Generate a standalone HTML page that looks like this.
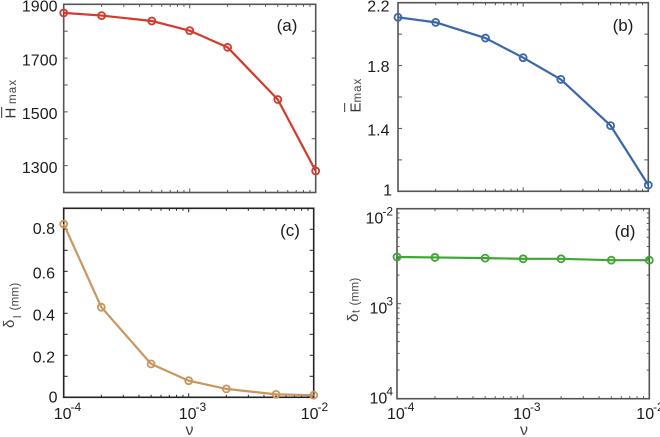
<!DOCTYPE html>
<html lang="en">
<head>
<meta charset="utf-8">
<title>Four-panel chart of maxima and thickness against viscosity</title>
<style>
html,body{margin:0;padding:0;background:#fff;width:660px;height:437px;overflow:hidden}
svg{display:block;filter:blur(.35px)}
text{font-family:"Liberation Sans",sans-serif;fill:#1c1c1c}
</style>
</head>
<body>
<svg id="chart" xmlns="http://www.w3.org/2000/svg" width="660" height="437" viewBox="0 0 660 437">
  <g fill="#555">
    <rect x="1" y="107" width="1.2" height="11" fill="#555"/>
    <text transform="translate(15.5 118.5) rotate(-90)" font-size="15" style="fill:#333">H</text>
    <text transform="translate(16 104) rotate(-90)" font-size="11.5" letter-spacing="1.2" style="fill:#444">max</text>
  </g>
  <g>
    <rect x="344" y="103" width="1.2" height="9" fill="#555"/>
    <text transform="translate(360.5 112.5) rotate(-90)" font-size="15" style="fill:#333">E</text>
    <text transform="translate(361 102.5) rotate(-90)" font-size="11.5" letter-spacing="1" style="fill:#444">max</text>
  </g>
  <g>
    <text transform="translate(14 328) rotate(-90)" font-size="15" style="fill:#444">δ</text>
    <text transform="translate(21 318) rotate(-90)" font-size="11" style="fill:#444">l</text>
    <text transform="translate(18.5 310.5) rotate(-90)" font-size="11.5" letter-spacing=".3" style="fill:#444">(mm)</text>
  </g>
  <g>
    <text transform="translate(358 322) rotate(-90)" font-size="15" style="fill:#444">δ</text>
    <text transform="translate(359.5 313) rotate(-90)" font-size="11" style="fill:#444">t</text>
    <text transform="translate(358.5 305.5) rotate(-90)" font-size="11.5" letter-spacing=".3" style="fill:#444">(mm)</text>
  </g>
  <text x="189.5" y="435" font-size="16" text-anchor="middle" style="fill:#444">ν</text>
  <text x="524" y="435" font-size="16" text-anchor="middle" style="fill:#444">ν</text>
</svg>
<script>
const viscosity = [1e-4, 2e-4, 5e-4, 1e-3, 2e-3, 5e-3, 1e-2];
const hMax = [1868, 1858, 1838, 1802, 1740, 1546, 1280];
const eMax = [2.107, 2.075, 1.975, 1.85, 1.712, 1.418, 1.04];
const deltaL = [0.825, 0.429, 0.159, 0.079, 0.04, 0.014, 0.01];
const deltaT = [3.10e-3, 3.07e-3, 3.02e-3, 2.97e-3, 2.97e-3, 2.87e-3, 2.87e-3];

const hTicks = [1900, 1700, 1500, 1300];
const hTickLabels = ['1900', '1700', '1500', '1300'];
const eTicks = [2.2, 1.8, 1.4, 1];
const eTickLabels = ['2.2', '1.8', '1.4', '1'];
const lTicks = [0.8, 0.6, 0.4, 0.2, 0];
const lTickLabels = ['0.8', '0.6', '0.4', '0.2', '0'];
const tTicks = [1e-2, 1e-3, 1e-4];
const tTickLabels = ['-2', '3', '4'];
const xTicks = [1e-4, 1e-3, 1e-2];
const xTickLabels = ['-4', '-3', '-2'];

const NS = 'http://www.w3.org/2000/svg';
const svg = document.getElementById('chart');

function mk(tag, attrs, parent, text) {
  const el = document.createElementNS(NS, tag);
  for (const k in attrs) el.setAttribute(k, attrs[k]);
  if (text !== undefined) el.textContent = text;
  parent.appendChild(el);
  return el;
}

function drawPanel(p) {
  const g = mk('g', {}, svg);
  
  

  const lx0 = Math.log10(1e-4), lx1 = Math.log10(1e-2);
  const X = v => p.left + (Math.log10(v) - lx0) / (lx1 - lx0) * (p.right - p.left);
  const Y = p.log
    ? v => p.bottom - (Math.log10(v) - Math.log10(p.yMin)) / (Math.log10(p.yMax) - Math.log10(p.yMin)) * (p.bottom - p.top)
    : v => p.bottom - (v - p.yMin) / (p.yMax - p.yMin) * (p.bottom - p.top);

  // x ticks on the top and bottom edges
  for (let d = -4; d < -2; d++) {
    for (let m = 1; m <= 10; m++) {
      if (m === 10 && d !== -3) continue;
      const x = X(m * Math.pow(10, d));
      const len = (m === 1 || m === 10) ? 4 : 2.5;
      const b = mk('line', {x1: x, x2: x, y1: p.bottom, y2: p.bottom - len, stroke: p.spine, 'stroke-width': 1}, g);
      
      
      const t = mk('line', {x1: x, x2: x, y1: p.top, y2: p.top + len, stroke: p.spine, 'stroke-width': 1}, g);
      
      
    }
  }

  // y ticks on the left and right edges
  const yt = [];
  if (p.log) {
    for (let d = -4; d < -2; d++) {
      for (let m = 1; m <= 9; m++) yt.push({v: m * Math.pow(10, d), len: m === 1 ? 4 : 2.5});
    }
    yt.push({v: 1e-2, len: 4});
  } else {
    for (let v = p.yMin; v <= p.yMax + p.minor / 2; v += p.minor) yt.push({v: v, len: 4});
  }
  yt.forEach(t => {
    const y = Y(t.v);
    const l = mk('line', {x1: p.left, x2: p.left + t.len, y1: y, y2: y, stroke: p.spine, 'stroke-width': 1}, g);
    
    
    const r = mk('line', {x1: p.right, x2: p.right - t.len, y1: y, y2: y, stroke: p.spine, 'stroke-width': 1}, g);
    
    
  });

  // axes frame
  const frame = mk('rect', {x: p.left, y: p.top, width: p.right - p.left, height: p.bottom - p.top, fill: 'none', stroke: p.spine, 'stroke-width': p.spineW}, g);
  
  

  // y tick labels
  p.yTicks.forEach((v, i) => {
    const y = Y(v) + p.yNudge[i];
    if (p.log) {
      const t = mk('text', {x: p.labelRight, y: y, 'font-size': 16, 'text-anchor': 'end'}, g);
      
      
      const base = mk('tspan', {}, t, '10');
      const sup = mk('tspan', {dy: -8, dx: -1, 'font-size': 12}, t, p.yLabels[i]);
      
      
      
      
    } else {
      const t = mk('text', {x: p.labelRight + (p.yLabels[i].length === 1 ? 2.5 : 0), y: y, 'font-size': 16, 'text-anchor': 'end'}, g, p.yLabels[i]);
      
      
    }
  });

  // x tick labels
  if (p.showX) {
    xTicks.forEach((v, i) => {
      const t = mk('text', {x: X(v) - (i === 2 ? 13 : 10), y: 419, 'font-size': 16}, g);
      
      
      const base = mk('tspan', {}, t, '10');
      const sup = mk('tspan', {dy: -8, dx: -1, 'font-size': 12}, t, xTickLabels[i]);
      
      
      
      
    });
  }

  // series line
  const pts = viscosity.map((v, i) => X(v).toFixed(2) + ',' + Y(p.values[i]).toFixed(2)).join(' ');
  const line = mk('polyline', {points: pts, fill: 'none', stroke: p.color, 'stroke-width': 2.2, 'stroke-linejoin': 'round'}, g);
  
  

  // series markers
  viscosity.forEach((v, i) => {
    const c = mk('circle', {cx: X(v), cy: Y(p.values[i]), r: 3.5, fill: 'none', stroke: p.color, 'stroke-width': 1.8}, g);
    
    
  });

  const tag = mk('text', {x: p.tagX, y: p.tagY, 'font-size': 17, 'text-anchor': 'middle'}, g, '(' + p.id + ')');
  
  
}

drawPanel({id: 'a', left: 63.7, right: 315.7, top: 4.3, bottom: 192.5, yMin: 1200, yMax: 1900, minor: 100,
  log: false, values: hMax, yTicks: hTicks, yLabels: hTickLabels, yNudge: [7.3, 7.3, 7.3, 7.3],
  labelRight: 57.5, color: '#d43a2c', spine: '#555', spineW: 1.6, showX: false, tagX: 287, tagY: 31});
drawPanel({id: 'b', left: 398, right: 648.3, top: 2.7, bottom: 191.3, yMin: 1, yMax: 2.2, minor: 0.2,
  log: false, values: eMax, yTicks: eTicks, yLabels: eTickLabels, yNudge: [9, 6.5, 7, 4],
  labelRight: 389.5, color: '#3a67a9', spine: '#555', spineW: 1.6, showX: false, tagX: 623, tagY: 31});
drawPanel({id: 'c', left: 63.7, right: 313.7, top: 208.3, bottom: 397.3, yMin: 0, yMax: 0.9, minor: 0.1,
  log: false, values: deltaL, yTicks: lTicks, yLabels: lTickLabels, yNudge: [4.5, 7, 7, 7, 5],
  labelRight: 55, color: '#c9965f', spine: '#222', spineW: 1.6, showX: true, tagX: 290, tagY: 236});
drawPanel({id: 'd', left: 397, right: 649.3, top: 208.7, bottom: 398.7, yMin: 1e-4, yMax: 1e-2,
  log: true, values: deltaT, yTicks: tTicks, yLabels: tTickLabels, yNudge: [15, 10, 5],
  labelRight: 393, color: '#3fa535', spine: '#555', spineW: 1.6, showX: true, tagX: 625, tagY: 237});
</script>
</body>
</html>
